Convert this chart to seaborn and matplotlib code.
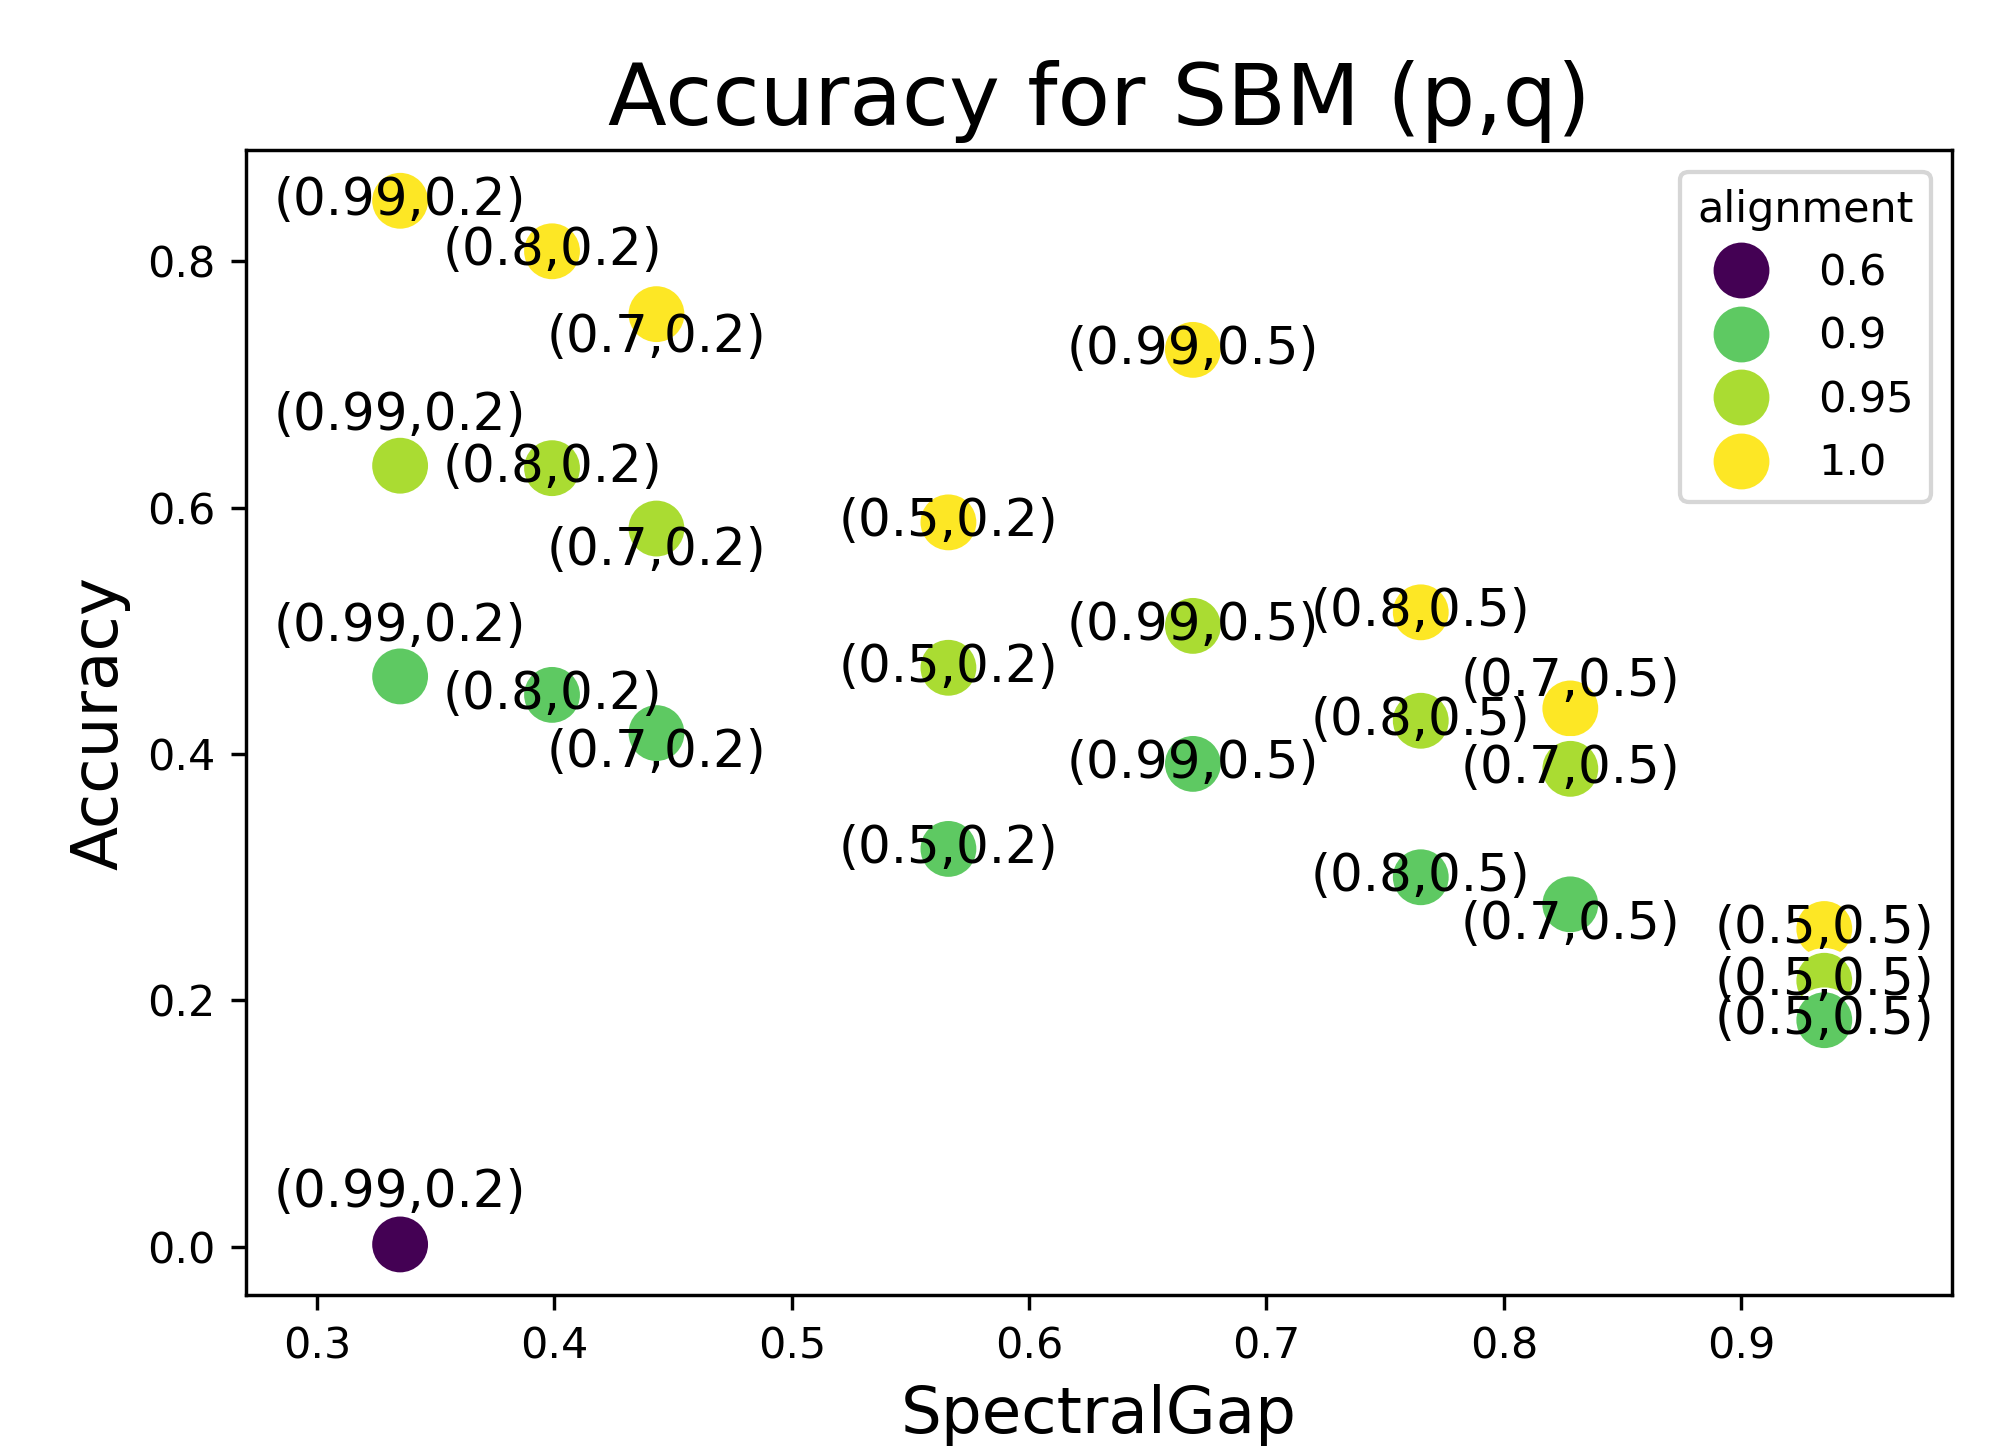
import numpy as np
import pandas as pd
import matplotlib
matplotlib.use("Agg")
import matplotlib.pyplot as plt
import seaborn as sns

# (p,q) settings of the SBM and the spectral gap for each
settings = ["(0.99,0.2)", "(0.8,0.2)", "(0.7,0.2)", "(0.5,0.2)",
            "(0.99,0.5)", "(0.8,0.5)", "(0.7,0.5)", "(0.5,0.5)"]
spectral_gap = [0.335, 0.399, 0.443, 0.566, 0.669, 0.765, 0.828, 0.935]

# accuracy per alignment level
acc_100 = [0.849, 0.808, 0.757, 0.588, 0.728, 0.515, 0.437, 0.258]
acc_095 = [0.634, 0.632, 0.583, 0.470, 0.504, 0.427, 0.388, 0.216]
acc_090 = [0.463, 0.448, 0.417, 0.323, 0.392, 0.300, 0.278, 0.184]
acc_060 = [0.002]  # only run for (0.99,0.2)

# vertical nudges of the labels (points), keyed by (alignment, setting index)
label_nudge = {(1.0, 2): -5.6, (1.0, 6): 6.2,
               (0.95, 0): 11.6, (0.95, 2): -5.2,
               (0.9, 0): 11.6, (0.9, 2): -4.6, (0.9, 6): -4.9,
               (0.6, 0): 11.9}

rows = []
for align, accs in [(1.0, acc_100), (0.95, acc_095), (0.9, acc_090), (0.6, acc_060)]:
    for i, a in enumerate(accs):
        rows.append({"SpectralGap": spectral_gap[i], "Accuracy": a,
                     "alignment": align, "label": settings[i], "idx": i})
df = pd.DataFrame(rows)

DPI = 309
fig = plt.figure(figsize=(1997 / DPI, 1449 / DPI), dpi=DPI)
ax = fig.add_subplot(111)
fig.subplots_adjust(left=0.1231, right=0.9777, bottom=0.1063, top=0.8963)

sns.scatterplot(data=df, x="SpectralGap", y="Accuracy", hue="alignment",
                palette="viridis", s=200, legend="full", ax=ax)

for _, r in df.iterrows():
    dy = label_nudge.get((r["alignment"], r["idx"]), 0)
    ax.annotate(r["label"], (r["SpectralGap"], r["Accuracy"]),
                xytext=(0, dy), textcoords="offset points",
                ha="center", va="center", fontsize=12)

ax.set_xlim(0.27, 0.989)
ax.set_ylim(-0.039, 0.890)
ax.set_xticks([0.3, 0.4, 0.5, 0.6, 0.7, 0.8, 0.9])
ax.set_yticks([0.0, 0.2, 0.4, 0.6, 0.8])
ax.set_xlabel("SpectralGap", fontsize=15)
ax.set_ylabel("Accuracy", fontsize=15)
ax.set_title("Accuracy for SBM (p,q)", fontsize=20)

handles, labels = ax.get_legend_handles_labels()
ax.legend(handles, ["0.6", "0.9", "0.95", "1.0"], title="alignment",
          loc="upper right")

fig.savefig("out.png", dpi=DPI)
